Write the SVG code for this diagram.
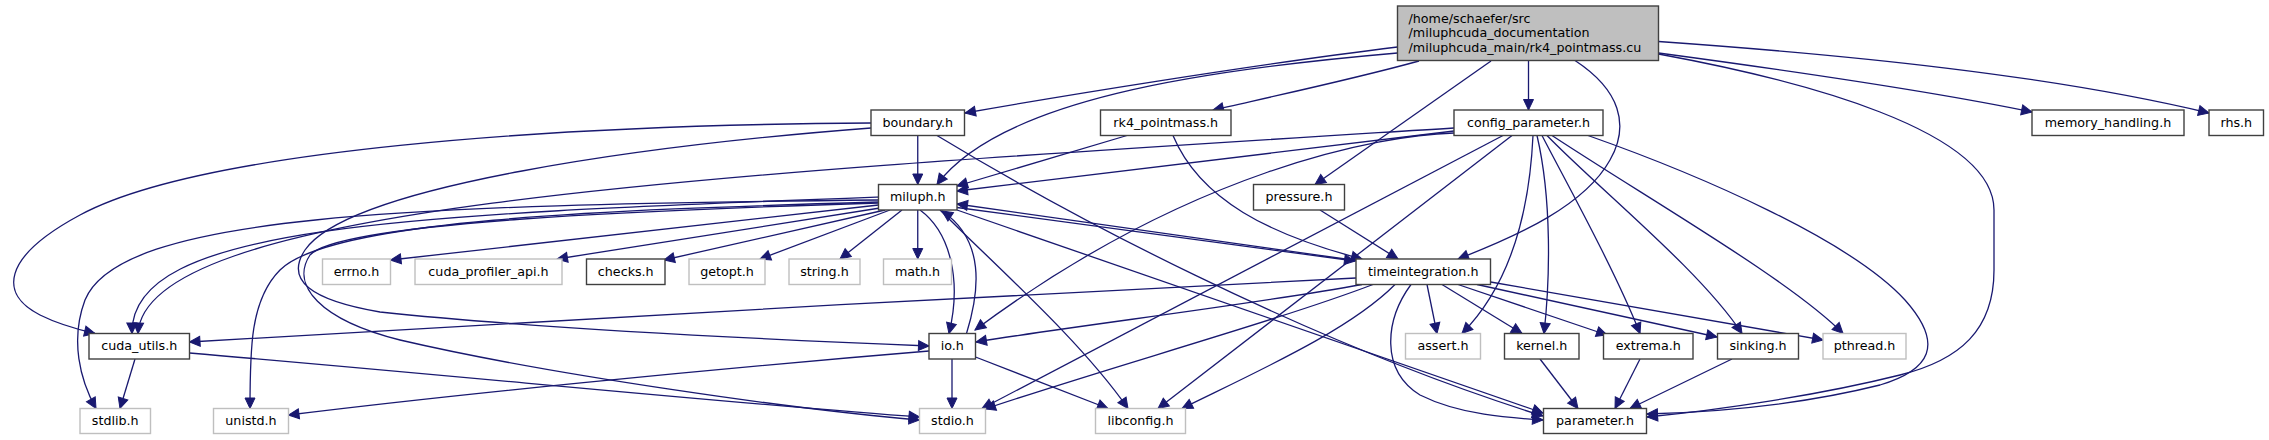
<svg xmlns="http://www.w3.org/2000/svg" width="2269" height="440" viewBox="0 0 2269 440">
<style>
.node rect{fill:#ffffff;stroke:#404040;stroke-width:1.4}
.node.sys rect{stroke:#bfbfbf}
.node.main rect{fill:#bfbfbf;stroke:#404040}
.node text{font-family:"DejaVu Sans","Liberation Sans",sans-serif;font-size:12.7px;fill:#000000;text-anchor:middle}
.node.main text{text-anchor:start}
.edges path{fill:none;stroke:#191970;stroke-width:1.3;marker-end:url(#arr)}
</style>
<defs>
<marker id="arr" markerUnits="userSpaceOnUse" markerWidth="12" markerHeight="11" refX="10.5" refY="5" orient="auto" overflow="visible">
<path d="M0,0 L10.5,5 L0,10 z" fill="#191970" stroke="#191970" stroke-width="1"/>
</marker>
</defs>
<rect width="2269" height="440" fill="#ffffff"/>
<g class="edges" id="connectors">
<path d="M1397.5,47 C1250,65 1050,98 965,113"/>
<path d="M1397.5,53 C1200,70 1000,100 937,184.5"/>
<path d="M1419,61 C1350,80 1270,97 1213,110"/>
<path d="M1491,61 L1315,184.5"/>
<path d="M1528.5,60.5 L1528.5,110"/>
<path d="M1575,60.5 C1620,90 1630,125 1610,160 C1585,205 1520,235 1458,259"/>
<path d="M1658.5,53 C1800,72 1950,95 2032,112"/>
<path d="M1658.5,41.5 C1850,55 2050,75 2209,113"/>
<path d="M1658.5,54 C1800,80 1994,130 1994,210 L1994,270 C1994,330 1960,360 1900,375 C1820,395 1720,410 1647,417"/>
<path d="M917.75,135.5 L917.75,184.5"/>
<path d="M871,123 C550,125 200,150 80,215 C0,258 0,295 40,315 C60,325 80,330 95,333.5"/>
<path d="M871,128 C650,145 350,185 305,250 C285,280 310,300 380,312 C550,330 780,340 929,346"/>
<path d="M937,135.5 C1060,210 1300,340 1543,416"/>
<path d="M1127,135.5 L957,186"/>
<path d="M1173,135.5 C1200,200 1270,235 1362,259"/>
<path d="M1320,210 L1398,259"/>
<path d="M1454,131 L957,191"/>
<path d="M1454,128 C700,175 145,205 138,333.5"/>
<path d="M1454,133 C1380,135 1190,170 975,330"/>
<path d="M1503,135.5 L982,408.5"/>
<path d="M1512,135.5 L1158,408.5"/>
<path d="M1533,135.5 C1530,200 1515,280 1462,333.5"/>
<path d="M1537,135.5 C1552,200 1550,280 1544,333.5"/>
<path d="M1542,135.5 C1565,180 1615,270 1640,333.5"/>
<path d="M1547,135.5 C1600,190 1700,270 1742,333.5"/>
<path d="M1552,135.5 C1650,200 1790,280 1843,333.5"/>
<path d="M1588,135.5 C1700,175 1850,240 1905,300 C1945,345 1930,370 1880,385 C1800,405 1720,412 1647,414"/>
<path d="M878.5,205 L390.5,260"/>
<path d="M880,208 L557,259"/>
<path d="M885,210 L664,260"/>
<path d="M890,210 L760,259"/>
<path d="M902,210 L840,259"/>
<path d="M917.75,210 L917.75,259"/>
<path d="M920,210 C950,232 962,280 949,333.5"/>
<path d="M940,210 C1000,270 1080,340 1128,408.5"/>
<path d="M957,210 L1543,413"/>
<path d="M957,207.5 L1355,261"/>
<path d="M878.5,197 C400,215 130,225 132,333.5"/>
<path d="M878.5,200 C400,205 120,215 85,300 C70,340 80,380 96,408.5"/>
<path d="M878.5,202 C600,210 330,220 280,270 C250,300 250,350 250,408.5"/>
<path d="M878.5,203 C650,210 340,222 310,255 C290,285 320,320 400,340 C550,375 800,410 919.5,420"/>
<path d="M1356,260.5 L957,204"/>
<path d="M1356,278 C1000,296 500,322 189.5,342"/>
<path d="M1362,284.5 C1250,305 1080,325 976,342"/>
<path d="M1373,284.5 C1280,320 1100,370 985,409"/>
<path d="M1395,284.5 C1350,330 1260,370 1182,408.5"/>
<path d="M1411,284.5 C1385,320 1380,370 1420,395 C1460,415 1510,418 1543,420"/>
<path d="M1427,284.5 L1437,333.5"/>
<path d="M1442,284.5 L1522,333.5"/>
<path d="M1458,284.5 L1607,335"/>
<path d="M1477,284.5 L1717,337"/>
<path d="M1490.5,282 L1823,340"/>
<path d="M966.5,333.5 C980,290 985,240 942,211"/>
<path d="M952,359 L952,408.5"/>
<path d="M975.5,357 L1108,408.5"/>
<path d="M929,351 C700,370 450,395 288.5,415"/>
<path d="M135,359 L120,408.5"/>
<path d="M189.5,353 C450,375 750,405 919.5,417"/>
<path d="M1540,359 L1578,408.5"/>
<path d="M1640,359 L1615,408.5"/>
<path d="M1732,359 L1630,408.5"/>
</g>
<g id="node-main" class="node main"><rect x="1397.5" y="6" width="261" height="54.5"/><text x="1408.5" y="22.5">/home/schaefer/src</text><text x="1408.5" y="37">/miluphcuda_documentation</text><text x="1408.5" y="51.5">/miluphcuda_main/rk4_pointmass.cu</text></g>
<g id="node-boundary" class="node"><rect x="871" y="110" width="93.5" height="25.5"/><text x="917.75" y="126.8">boundary.h</text></g>
<g id="node-rk4_pointmass" class="node"><rect x="1100.5" y="110" width="130.5" height="25.5"/><text x="1165.75" y="126.8">rk4_pointmass.h</text></g>
<g id="node-config_parameter" class="node"><rect x="1454" y="110" width="149" height="25.5"/><text x="1528.5" y="126.8">config_parameter.h</text></g>
<g id="node-memory_handling" class="node"><rect x="2032" y="110" width="152" height="25.5"/><text x="2108" y="126.8">memory_handling.h</text></g>
<g id="node-rhs" class="node"><rect x="2209" y="110" width="54.5" height="25.5"/><text x="2236.25" y="126.8">rhs.h</text></g>
<g id="node-miluph" class="node"><rect x="878.5" y="184.5" width="78.5" height="25.5"/><text x="917.75" y="201.3">miluph.h</text></g>
<g id="node-pressure" class="node"><rect x="1253.5" y="184.5" width="91" height="25.5"/><text x="1299" y="201.3">pressure.h</text></g>
<g id="node-errno" class="node sys"><rect x="322.5" y="259" width="68" height="25.5"/><text x="356.5" y="275.8">errno.h</text></g>
<g id="node-cuda_profiler_api" class="node sys"><rect x="415" y="259" width="147" height="25.5"/><text x="488.5" y="275.8">cuda_profiler_api.h</text></g>
<g id="node-checks" class="node"><rect x="586.5" y="259" width="78.5" height="25.5"/><text x="625.75" y="275.8">checks.h</text></g>
<g id="node-getopt" class="node sys"><rect x="689" y="259" width="76" height="25.5"/><text x="727" y="275.8">getopt.h</text></g>
<g id="node-string" class="node sys"><rect x="789" y="259" width="71" height="25.5"/><text x="824.5" y="275.8">string.h</text></g>
<g id="node-math" class="node sys"><rect x="883.5" y="259" width="68" height="25.5"/><text x="917.5" y="275.8">math.h</text></g>
<g id="node-timeintegration" class="node"><rect x="1356" y="259" width="134.5" height="25.5"/><text x="1423.25" y="275.8">timeintegration.h</text></g>
<g id="node-cuda_utils" class="node"><rect x="89" y="333.5" width="100.5" height="25.5"/><text x="139.25" y="350.3">cuda_utils.h</text></g>
<g id="node-io" class="node"><rect x="929" y="333.5" width="46.5" height="25.5"/><text x="952.25" y="350.3">io.h</text></g>
<g id="node-assert" class="node sys"><rect x="1405.5" y="333.5" width="75" height="25.5"/><text x="1443" y="350.3">assert.h</text></g>
<g id="node-kernel" class="node"><rect x="1504.5" y="333.5" width="74.5" height="25.5"/><text x="1541.75" y="350.3">kernel.h</text></g>
<g id="node-extrema" class="node"><rect x="1603.5" y="333.5" width="89.5" height="25.5"/><text x="1648.25" y="350.3">extrema.h</text></g>
<g id="node-sinking" class="node"><rect x="1717.5" y="333.5" width="81" height="25.5"/><text x="1758" y="350.3">sinking.h</text></g>
<g id="node-pthread" class="node sys"><rect x="1823" y="333.5" width="83" height="25.5"/><text x="1864.5" y="350.3">pthread.h</text></g>
<g id="node-stdlib" class="node sys"><rect x="80" y="408.5" width="70.5" height="25"/><text x="115.25" y="425">stdlib.h</text></g>
<g id="node-unistd" class="node sys"><rect x="213.5" y="408.5" width="75" height="25"/><text x="251" y="425">unistd.h</text></g>
<g id="node-stdio" class="node sys"><rect x="919.5" y="408.5" width="66" height="25"/><text x="952.5" y="425">stdio.h</text></g>
<g id="node-libconfig" class="node sys"><rect x="1095.5" y="408.5" width="90" height="25"/><text x="1140.5" y="425">libconfig.h</text></g>
<g id="node-parameter" class="node"><rect x="1543.5" y="408.5" width="103" height="25"/><text x="1595" y="425">parameter.h</text></g>
</svg>
